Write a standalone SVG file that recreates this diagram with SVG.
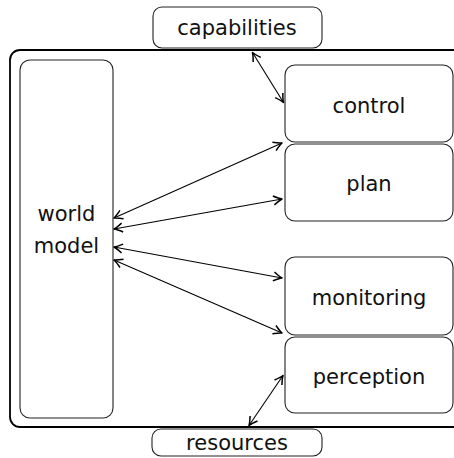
<svg xmlns="http://www.w3.org/2000/svg" width="454" height="458" viewBox="0 0 454 458">
<defs>
<style>
.box{fill:#fff;stroke:#222;stroke-width:1.1}
.outer{fill:none;stroke:#000;stroke-width:1.8}
.lbl{font-family:"DejaVu Sans","Liberation Sans",sans-serif;font-size:21px;fill:#111;text-anchor:middle}
.con{stroke:#000;stroke-width:1.1;fill:none;marker-start:url(#arr);marker-end:url(#arr)}
</style>
<marker id="arr" viewBox="-10 -6 12 12" refX="0" refY="0" markerWidth="12" markerHeight="12" markerUnits="userSpaceOnUse" orient="auto-start-reverse">
<path d="M-8.5,-4.5 Q-3,-1 0,0 Q-3,1 -8.5,4.5" fill="none" stroke="#000" stroke-width="1.5" stroke-linejoin="round"/>
</marker>
</defs>
<g id="outer-frame">
<rect class="outer" x="10" y="50" width="460" height="377" rx="10"/>
</g>
<g id="capabilities">
<rect class="box" x="153" y="7" width="169" height="41" rx="9"/>
<text class="lbl" x="237" y="35">capabilities</text>
</g>
<g id="resources">
<rect class="box" x="152" y="429" width="170" height="27" rx="9"/>
<text class="lbl" x="237" y="450">resources</text>
</g>
<g id="world-model">
<rect class="box" x="20" y="60" width="93" height="358" rx="10"/>
<text class="lbl" x="66.5" y="221">world</text>
<text class="lbl" x="66.5" y="253">model</text>
</g>
<g id="control">
<rect class="box" x="285" y="65" width="168" height="77" rx="10"/>
<text class="lbl" x="369" y="113">control</text>
</g>
<g id="plan">
<rect class="box" x="285" y="144" width="168" height="77" rx="10"/>
<text class="lbl" x="369" y="191">plan</text>
</g>
<g id="monitoring">
<rect class="box" x="285" y="257" width="168" height="78" rx="10"/>
<text class="lbl" x="369" y="305">monitoring</text>
</g>
<g id="perception">
<rect class="box" x="285" y="337" width="168" height="76" rx="10"/>
<text class="lbl" x="369" y="384">perception</text>
</g>
<g id="connectors">
<path class="con" d="M252.5,52.5 L283.5,102.5"/>
<path class="con" d="M283,375.5 L249,425.5"/>
<path class="con" d="M114,218 L282,143"/>
<path class="con" d="M114,229 L282,199"/>
<path class="con" d="M114,247 L282,278"/>
<path class="con" d="M114,260 L282,333"/>
</g>
</svg>
